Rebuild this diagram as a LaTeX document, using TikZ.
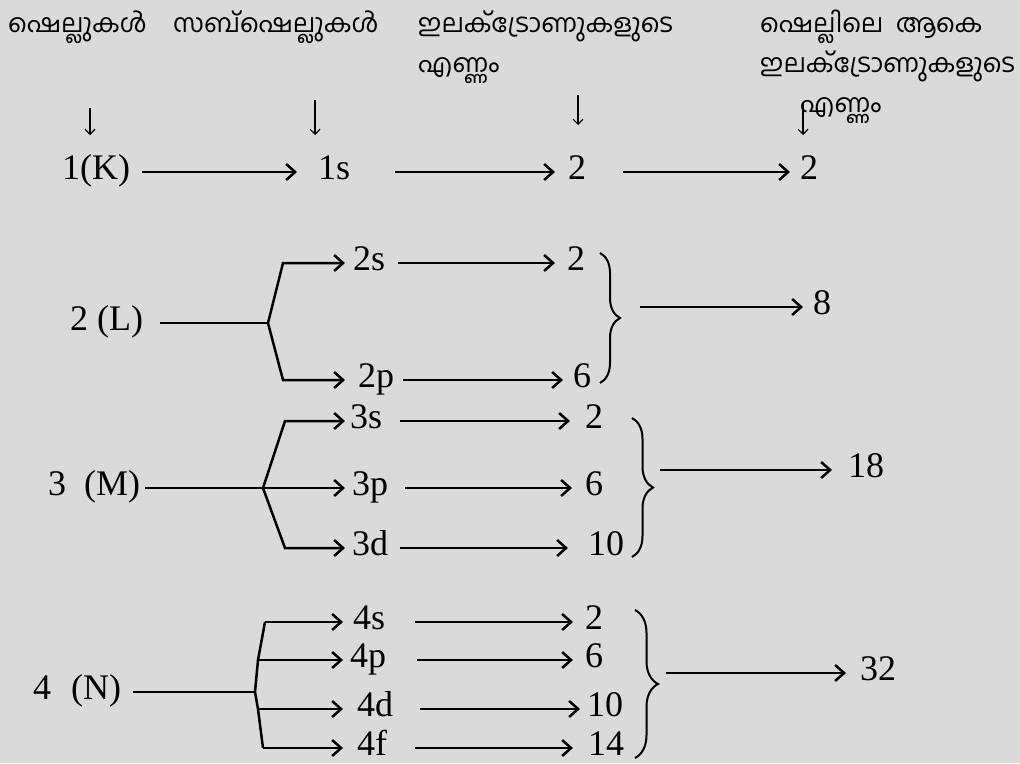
\documentclass[tikz,border=0pt]{standalone}
\usepackage{fontspec}
\newfontfamily\numfont{Liberation Serif}
\newfontfamily\malfont[Script=Malayalam]{Hind Kochi}
\usetikzlibrary{arrows.meta,decorations.pathreplacing}
\definecolor{bg}{RGB}{218,218,218}
\begin{document}
\begin{tikzpicture}[x=1pt,y=-1pt,
  num/.style={font=\numfont\fontsize{36}{40}\selectfont, inner xsep=2pt, inner ysep=0pt, text height=26pt, text depth=12pt, anchor=west},
  low/.style={text height=18pt, text depth=4pt},
  hd/.style={font=\malfont\fontsize{25.5}{30}\selectfont, anchor=base west, inner sep=0pt},
  arr/.style={line width=2.5pt, -{Straight Barb[length=9pt,width=16pt]}},
  ln/.style={line width=2.5pt},
  dn/.style={line width=1.2pt, -{Straight Barb[length=5pt,width=10pt]}},
  br/.style={line width=2pt, decorate, decoration={brace, amplitude=20pt}}]
\useasboundingbox[fill=bg] (0,0) rectangle (1020,763);

% headers
\node[hd] (h1) at (8,32) {ഷെല്ലുകൾ};
\node[hd] (h2) at (173,32) {സബ്ഷെല്ലുകൾ};
\node[hd] (h3a) at (418,32) {ഇലക്ട്രോണുകളുടെ};
\node[hd] (h3b) at (418,72) {എണ്ണം};
\node[hd] (h4a) at (760,32) {ഷെല്ലിലെ\ \ ആകെ};
\node[hd] (h4b) at (760,72) {ഇലക്ട്രോണുകളുടെ};
\node[hd] (h4c) at (800,112) {എണ്ണം};

\coordinate (u1) at (90,108);  \coordinate (v1) at (90,135);
\coordinate (u2) at (315,100); \coordinate (v2) at (315,135);
\coordinate (u3) at (578,95);  \coordinate (v3) at (578,125);
\coordinate (u4) at (803,103); \coordinate (v4) at (803,135);
\draw[dn] (u1) -- (v1);
\draw[dn] (u2) -- (v2);
\draw[dn] (u3) -- (v3);
\draw[dn] (u4) -- (v4);

% row K
\node[num] (K) at (60,172) {1(K)};
\node[num] (s1) at (316,172) {1s};
\node[num] (e1) at (566,172) {2};
\node[num] (t1) at (798,172) {2};
\draw[arr, shorten <=10pt, shorten >=19pt] (K.east) -- (s1.west);
\draw[arr, shorten <=43pt, shorten >=11pt] (s1.east) -- (e1.west);
\draw[arr, shorten <=35pt, shorten >=8pt] (e1.east) -- (t1.west);

% row L
\node[num] (L) at (68,323) {2 (L)};
\coordinate (jL) at (268,323);
\coordinate (bL1) at (283,263);
\coordinate (bL2) at (283,380);
\node[num] (s2) at (351,263) {2s};
\node[num] (p2) at (356,380) {2p};
\node[num] (e2s) at (565,263) {2};
\node[num] (e2p) at (571,380) {6};
\node[num] (tL) at (811,307) {8};
\coordinate (bLt) at (640,307);
\draw[ln, shorten <=15pt] (L.east) -- (jL);
\draw[arr, shorten >=6pt] (jL) -- (bL1) -- (s2.west);
\draw[arr, shorten >=11pt] (jL) -- (bL2) -- (p2.west);
\draw[arr, shorten <=11pt, shorten >=10pt] (s2.east) -- (e2s.west);
\draw[arr, shorten <=7pt, shorten >=8pt] (p2.east) -- (e2p.west);
\draw[br] (600,253) -- (600,383);
\draw[arr, shorten >=8pt] (bLt) -- (tL.west);

% row M
\node[num] (M) at (46,488) {3\hspace{18pt}(M)};
\coordinate (jM) at (263,488);
\coordinate (bM1) at (285,421);
\coordinate (bM2) at (285,548);
\node[num] (s3) at (348,421) {3s};
\node[num] (p3) at (350,488) {3p};
\node[num] (d3) at (350,548) {3d};
\node[num] (e3s) at (583,421) {2};
\node[num] (e3p) at (583,488) {6};
\node[num] (e3d) at (586,548) {10};
\node[num] (tM) at (846,470) {18};
\coordinate (bMt) at (660,470);
\draw[ln, shorten <=3pt] (M.east) -- (jM);
\draw[arr, shorten >=3pt] (jM) -- (bM1) -- (s3.west);
\draw[arr, shorten >=5pt] (jM) -- (p3.west);
\draw[arr, shorten >=5pt] (jM) -- (bM2) -- (d3.west);
\draw[arr, shorten <=16pt, shorten >=13pt] (s3.east) -- (e3s.west);
\draw[arr, shorten <=15pt, shorten >=11pt] (p3.east) -- (e3p.west);
\draw[arr, shorten <=10pt, shorten >=18pt] (d3.east) -- (e3d.west);
\draw[br, decoration={amplitude=21pt}] (632,418) -- (632,557);
\draw[arr, shorten >=14pt] (bMt) -- (tM.west);

% row N
\node[num] (N) at (31,692) {4\hspace{20pt}(N)};
\coordinate (jN) at (255,692);
\coordinate (c1) at (265,622);
\coordinate (c2) at (258,660);
\coordinate (c4) at (258,709);
\coordinate (c5) at (263,748);
\node[num] (s4) at (351,622) {4s};
\node[num] (p4) at (348,660) {4p};
\node[num] (d4) at (355,709) {4d};
\node[num, low] (f4) at (355,748) {4f};
\node[num] (e4s) at (583,622) {2};
\node[num] (e4p) at (583,660) {6};
\node[num] (e4d) at (585,709) {10};
\node[num, low] (e4f) at (586,748) {14};
\node[num] (tN) at (858,673) {32};
\coordinate (bNt) at (666,673);
\draw[ln, shorten <=10pt] (N.east) -- (jN);
\draw[ln] (c1) -- (c2) -- (jN) -- (c4) -- (c5);
\draw[arr, shorten >=8pt] (c1) -- (s4.west);
\draw[arr, shorten >=5pt] (c2) -- (p4.west);
\draw[arr, shorten >=12pt] (c4) -- (d4.west);
\draw[arr, shorten >=12pt] (c5) -- (f4.west);
\draw[arr, shorten <=28pt, shorten >=10pt] (s4.east) -- (e4s.west);
\draw[arr, shorten <=29pt, shorten >=10pt] (p4.east) -- (e4p.west);
\draw[arr, shorten <=25pt, shorten >=5pt] (d4.east) -- (e4d.west);
\draw[arr, shorten <=26pt, shorten >=13pt] (f4.east) -- (e4f.west);
\draw[br, decoration={amplitude=23pt}] (635,610) -- (635,758);
\draw[arr, shorten >=12pt] (bNt) -- (tN.west);
\end{tikzpicture}
\end{document}
